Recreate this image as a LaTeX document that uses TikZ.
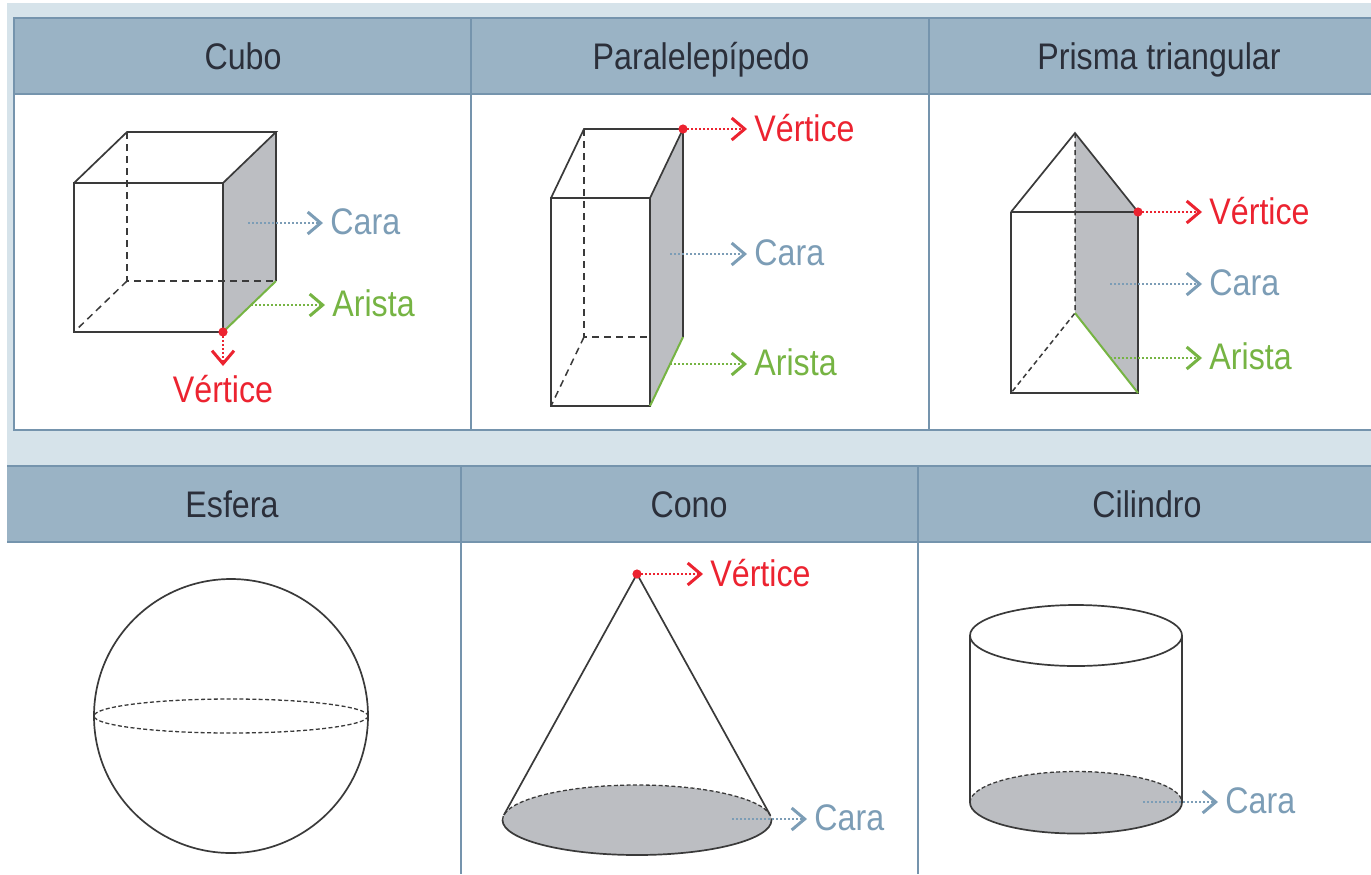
\documentclass[tikz,border=0pt]{standalone}
\usepackage{fontspec}
\setmainfont{Liberation Sans}[FakeStretch=0.87]
\usetikzlibrary{arrows.meta}
\definecolor{bandblue}{HTML}{D6E3EA}
\definecolor{headblue}{HTML}{9AB3C5}
\definecolor{borderblue}{HTML}{7594AD}
\definecolor{caracol}{HTML}{7C9DB6}
\definecolor{vertcol}{HTML}{EC2330}
\definecolor{aristacol}{HTML}{76B443}
\definecolor{facegray}{HTML}{BCBEC2}
\definecolor{edgecol}{HTML}{3A3A3A}
\definecolor{headtext}{HTML}{2B2F3A}
\begin{document}
\begin{tikzpicture}[x=0.5pt,y=-0.5pt,
  edge/.style={draw=edgecol,line width=0.85pt},
  hidden/.style={draw=edgecol,line width=0.75pt,dash pattern=on 3.5pt off 2.5pt},
  finehidden/.style={draw=edgecol,line width=0.65pt,dash pattern=on 2pt off 1.2pt},
  greenedge/.style={draw=aristacol,line width=1pt},
  face/.style={fill=facegray},
  frame/.style={draw=borderblue,line width=1.4pt},
  title/.style={font=\fontsize{18.5}{20}\selectfont,text=headtext,inner sep=0pt,text height=13.3pt,text depth=0pt},
  lab/.style={font=\fontsize{18.5}{20}\selectfont,anchor=west,inner xsep=3.5pt,inner ysep=0pt,text height=13.3pt,text depth=0pt},
  labdown/.style={font=\fontsize{18.5}{20}\selectfont,anchor=north,inner xsep=0pt,inner ysep=4.5pt,text height=13.3pt,text depth=0pt},
  pointer/.style={line width=1pt,dash pattern=on 0.9pt off 1.1pt,-{Straight Barb[length=6.5pt,width=11pt,line width=1.5pt]}},
  vdot/.style={circle,fill=vertcol,inner sep=0pt,minimum size=4.6pt},
]
\useasboundingbox (0,0) rectangle (1371,874);
% ---------- background and table frames ----------
\fill[white] (0,0) rectangle (1371,874);
\fill[bandblue] (7,3) rectangle (1371,466);
\fill[white] (13,94) rectangle (1371,430);
\fill[headblue] (13,17) rectangle (1371,94);
\draw[frame] (14,430) -- (14,18) -- (1371,18);
\draw[frame,line width=1.1pt] (14,94) -- (1371,94);
\draw[frame] (13,430) -- (1371,430);
\draw[frame,line width=1.1pt] (471,18) -- (471,430);
\draw[frame,line width=1.1pt] (929,18) -- (929,430);
\fill[headblue] (7,466) rectangle (1371,542);
\fill[white] (7,542) rectangle (1371,874);
\draw[frame,line width=1.1pt] (7,466) -- (1371,466);
\draw[frame,line width=1.1pt] (7,542) -- (1371,542);
\draw[frame,line width=1.1pt] (461,466) -- (461,874);
\draw[frame,line width=1.1pt] (918,466) -- (918,874);
% ---------- titles ----------
\node[title] (tCubo) at (243,56.5) {Cubo};
\node[title] (tPara) at (701,56.5) {Paralelepípedo};
\node[title] (tPrisma) at (1159,56.5) {Prisma triangular};
\node[title] (tEsfera) at (232,504) {Esfera};
\node[title] (tCono) at (689,504) {Cono};
\node[title] (tCil) at (1147,504) {Cilindro};
% ---------- Cubo ----------
\coordinate (cA) at (74,183);
\coordinate (cB) at (223,183);
\coordinate (cC) at (223,332);
\coordinate (cD) at (74,332);
\coordinate (cE) at (127,132);
\coordinate (cF) at (276,132);
\coordinate (cG) at (276,281);
\coordinate (cH) at (127,281);
\fill[face] (cB) -- (cF) -- (cG) -- (cC) -- cycle;
\draw[hidden] (cE) -- (cH) -- (cG);
\draw[hidden] (cH) -- (cD);
\draw[edge] (cA) rectangle (cC);
\draw[edge] (cA) -- (cE) -- (cF) -- (cB);
\draw[edge] (cF) -- (cG);
\draw[greenedge] (cC) -- (cG);
\coordinate (cCaraS) at (248,223);
\coordinate (cAristaS) at (251,305);
\node[lab,text=caracol] (cCara) at (323,221) {Cara};
\node[lab,text=aristacol] (cArista) at (325,303) {Arista};
\node[labdown,text=vertcol] (cVert) at (223,366) {Vértice};
\draw[pointer,draw=caracol] (cCaraS) -- (cCaraS -| cCara.west);
\draw[pointer,draw=aristacol] (cAristaS) -- (cAristaS -| cArista.west);
\draw[pointer,draw=vertcol,shorten <=2pt] (cC) -- (cVert.north);
\node[vdot] (cVdot) at (cC) {};
% ---------- Paralelepipedo ----------
\coordinate (pA) at (551,198);
\coordinate (pB) at (650,198);
\coordinate (pC) at (650,406);
\coordinate (pD) at (551,406);
\coordinate (pE) at (584,129);
\coordinate (pF) at (683,129);
\coordinate (pG) at (683,337);
\coordinate (pH) at (584,337);
\fill[face] (pB) -- (pF) -- (pG) -- (pC) -- cycle;
\draw[hidden] (pE) -- (pH) -- (pB |- pH);
\draw[hidden] (pH) -- (pD);
\draw[edge] (pA) rectangle (pC);
\draw[edge] (pA) -- (pE) -- (pF) -- (pB);
\draw[edge] (pF) -- (pG);
\draw[greenedge] (pC) -- (pG);
\coordinate (pCaraS) at (670,254);
\coordinate (pAristaS) at (670,364);
\node[lab,text=vertcol] (pVert) at (747,128) {Vértice};
\node[lab,text=caracol] (pCara) at (747,252) {Cara};
\node[lab,text=aristacol] (pArista) at (747,362) {Arista};
\draw[pointer,draw=vertcol] (pF) -- (pF -| pVert.west);
\draw[pointer,draw=caracol] (pCaraS) -- (pCaraS -| pCara.west);
\draw[pointer,draw=aristacol] (pAristaS) -- (pAristaS -| pArista.west);
\node[vdot] (pVdot) at (pF) {};
% ---------- Prisma triangular ----------
\coordinate (tApex) at (1075,133);
\coordinate (tL) at (1011,212);
\coordinate (tR) at (1138,212);
\coordinate (tBL) at (1011,393);
\coordinate (tBR) at (1138,393);
\coordinate (tBack) at (1075,313);
\fill[face] (tApex) -- (tR) -- (tBR) -- (tBack) -- cycle;
\draw[hidden,dash pattern=on 2.5pt off 1.8pt] (tApex) -- (tBack) -- (tBL);
\draw[edge] (tL) -- (tApex) -- (tR);
\draw[edge] (tL) -- (tR);
\draw[edge] (tR) -- (tBR) -- (tBL) -- (tL);
\draw[greenedge] (tBack) -- (tBR);
\coordinate (tCaraS) at (1110,284);
\coordinate (tAristaS) at (1110,358);
\node[lab,text=vertcol] (tVert) at (1202,211) {Vértice};
\node[lab,text=caracol] (tCara) at (1202,282) {Cara};
\node[lab,text=aristacol] (tArista) at (1202,356) {Arista};
\draw[pointer,draw=vertcol] (tR) -- (tR -| tVert.west);
\draw[pointer,draw=caracol] (tCaraS) -- (tCaraS -| tCara.west);
\draw[pointer,draw=aristacol] (tAristaS) -- (tAristaS -| tArista.west);
\node[vdot] (tVdot) at (tR) {};
% ---------- Esfera ----------
\coordinate (sO) at (231,716);
\draw[edge] (sO) circle[radius=137];
\draw[finehidden] (sO) ellipse[x radius=137,y radius=17];
% ---------- Cono ----------
\coordinate (kApex) at (637,574);
\coordinate (kO) at (637,820);
\coordinate (kLT) at (503.9,815);
\coordinate (kRT) at (770.1,815);
\fill[face] (kO) ellipse[x radius=134.5,y radius=35];
\draw[edge] ([xshift=67.25pt]kO) arc[start angle=0,end angle=180,x radius=134.5,y radius=35];
\draw[finehidden] ([xshift=-67.25pt]kO) arc[start angle=180,end angle=360,x radius=134.5,y radius=35];
\draw[edge] (kLT) -- (kApex) -- (kRT);
\coordinate (kCaraS) at (732,819);
\node[lab,text=vertcol] (kVert) at (703,573) {Vértice};
\node[lab,text=caracol] (kCara) at (807,817) {Cara};
\draw[pointer,draw=vertcol] (kApex) -- (kApex -| kVert.west);
\draw[pointer,draw=caracol] (kCaraS) -- (kCaraS -| kCara.west);
\node[vdot] (kVdot) at (kApex) {};
% ---------- Cilindro ----------
\coordinate (zTop) at (1076,635.5);
\coordinate (zBot) at (1076,802.5);
\fill[face] (zBot) ellipse[x radius=106,y radius=31];
\draw[edge] (zTop) ellipse[x radius=106,y radius=30.5];
\draw[edge] ([xshift=-53pt]zTop) -- ([xshift=-53pt]zBot);
\draw[edge] ([xshift=53pt]zTop) -- ([xshift=53pt]zBot);
\draw[edge] ([xshift=53pt]zBot) arc[start angle=0,end angle=180,x radius=106,y radius=31];
\draw[finehidden] ([xshift=-53pt]zBot) arc[start angle=180,end angle=360,x radius=106,y radius=31];
\coordinate (zCaraS) at (1143,802);
\node[lab,text=caracol] (zCara) at (1218,800) {Cara};
\draw[pointer,draw=caracol] (zCaraS) -- (zCaraS -| zCara.west);
\end{tikzpicture}
\end{document}
